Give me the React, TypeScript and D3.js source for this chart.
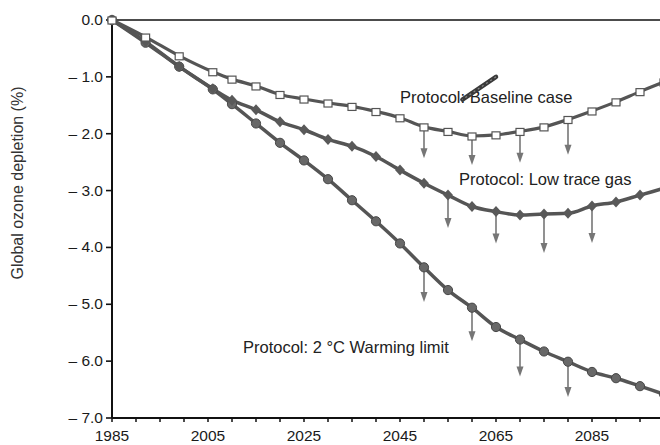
import React from 'react';
import * as d3 from 'd3';

// years of the model runs (markers)
const years = [1985, 1992, 1999, 2006, 2010, 2015, 2020, 2025, 2030, 2035, 2040, 2045, 2050, 2055, 2060, 2065, 2070, 2075, 2080, 2085, 2090, 2095, 2100];

const baselineCase = [0, -0.3, -0.63, -0.91, -1.04, -1.16, -1.31, -1.39, -1.46, -1.52, -1.61, -1.72, -1.88, -1.96, -2.04, -2.02, -1.96, -1.88, -1.75, -1.6, -1.44, -1.26, -1.09];
const lowTraceGas = [0, -0.38, -0.82, -1.21, -1.41, -1.58, -1.79, -1.93, -2.1, -2.22, -2.4, -2.64, -2.87, -3.08, -3.28, -3.37, -3.43, -3.41, -3.4, -3.27, -3.2, -3.08, -2.96];
const warmingLimit = [0, -0.4, -0.82, -1.22, -1.48, -1.82, -2.16, -2.47, -2.8, -3.17, -3.54, -3.93, -4.35, -4.75, -5.06, -5.4, -5.62, -5.83, -6.01, -6.19, -6.3, -6.44, -6.58];

// uncertainty arrows (year, value at arrow tip)
const baselineArrowYears = [2050, 2060, 2070, 2080];
const baselineArrowEnds = [-2.43, -2.55, -2.51, -2.37];
const lowTraceArrowYears = [2055, 2065, 2075, 2085];
const lowTraceArrowEnds = [-3.66, -3.93, -4.1, -3.92];
const warmingArrowYears = [2050, 2060, 2070, 2080];
const warmingArrowEnds = [-4.96, -5.65, -6.27, -6.63];

const xMinorTicks = [1985, 1990, 1995, 2000, 2005, 2010, 2015, 2020, 2025, 2030, 2035, 2040, 2045, 2050, 2055, 2060, 2065, 2070, 2075, 2080, 2085, 2090, 2095, 2100];
const xLabels = [1985, 2005, 2025, 2045, 2065, 2085];
const yTicks = [0, -1, -2, -3, -4, -5, -6, -7];

const FONT = '"Liberation Sans", Arial, Helvetica, sans-serif';
const LINE = '#555';
const ARROW = '#767676';

const width = 660;
const height = 445;

const x = d3.scaleLinear().domain([1985, 2085]).range([112, 592]);
const y = d3.scaleLinear().domain([0, -7]).range([20, 418]);

const line = d3.line<[number, number]>()
  .x(d => x(d[0]))
  .y(d => y(d[1]))
  .curve(d3.curveMonotoneX);

const pairs = (vals: number[]) => years.map((yr, i) => [yr, vals[i]] as [number, number]);

const valueAt = (vals: number[], yr: number) => vals[years.indexOf(yr)];

const fmtY = (v: number) => (v === 0 ? '0.0' : '\u2013 ' + Math.abs(v).toFixed(1));

const Arrows = ({ vals, ys, ends }: { vals: number[]; ys: number[]; ends: number[] }) => (
  <g>
    {ys.map((yr, i) => {
      const cx = x(yr);
      const y0 = y(valueAt(vals, yr)) + 4;
      const y1 = y(ends[i]);
      return (
        <g key={yr}>
          <line x1={cx} x2={cx} y1={y0} y2={y1 - 8} stroke={ARROW} strokeWidth={1.6} />
          <path d={`M${cx - 3.5},${y1 - 10} L${cx + 3.5},${y1 - 10} L${cx},${y1} Z`} fill={ARROW} />
        </g>
      );
    })}
  </g>
);

export default function App() {
  const pointerFrom = [x(2065), y(-1.0)];
  const pointerTo = [x(2058), y(-1.4)];

  return (
    <div style={{ position: 'fixed', left: 0, top: 0, width, height, background: '#fff' }}>
      <svg width={width} height={height} style={{ display: 'block', fontFamily: FONT }}>
        <rect width={width} height={height} fill="#fff" />

        {/* axes */}
        <line x1={x(1985)} x2={width} y1={y(0)} y2={y(0)} stroke="#111" strokeWidth={1.6} />
        <line x1={x(1985)} x2={width} y1={y(-7)} y2={y(-7)} stroke="#111" strokeWidth={2} />
        <line x1={x(1985)} x2={x(1985)} y1={y(0)} y2={y(-7)} stroke="#111" strokeWidth={2} />

        {yTicks.map(v => (
          <g key={v}>
            <line x1={x(1985) - 6} x2={x(1985)} y1={y(v)} y2={y(v)} stroke="#111" strokeWidth={1.6} />
            <text x={x(1985) - 9} y={y(v) + 5} textAnchor="end" fontSize={15.5} fill="#1a1a1a" style={{ whiteSpace: 'pre' }}>
              {fmtY(v)}
            </text>
          </g>
        ))}

        {xMinorTicks.map(t => (
          <line key={t} x1={x(t)} x2={x(t)} y1={y(-7)} y2={y(-7) + 4} stroke="#111" strokeWidth={1.5} />
        ))}
        {xLabels.map(t => (
          <text key={t} x={x(t)} y={441} textAnchor="middle" fontSize={15.5} fill="#1a1a1a">{t}</text>
        ))}

        <text transform="translate(23,183) rotate(-90)" textAnchor="middle" fontSize={16} fill="#333">
          Global ozone depletion (%)
        </text>

        {/* arrows */}
        <Arrows vals={baselineCase} ys={baselineArrowYears} ends={baselineArrowEnds} />
        <Arrows vals={lowTraceGas} ys={lowTraceArrowYears} ends={lowTraceArrowEnds} />
        <Arrows vals={warmingLimit} ys={warmingArrowYears} ends={warmingArrowEnds} />

        {/* lines */}
        <path d={line(pairs(warmingLimit)) || ''} fill="none" stroke={LINE} strokeWidth={3.5} />
        <path d={line(pairs(lowTraceGas)) || ''} fill="none" stroke={LINE} strokeWidth={3.5} />
        <path d={line(pairs(baselineCase)) || ''} fill="none" stroke={LINE} strokeWidth={3.2} />

        {/* markers */}
        {pairs(warmingLimit).map(([yr, v]) => (
          <circle key={yr} cx={x(yr)} cy={y(v)} r={4.6} fill="#686868" stroke="#474747" strokeWidth={1} />
        ))}
        {pairs(lowTraceGas).map(([yr, v]) => {
          const cx = x(yr);
          const cy = y(v);
          return <path key={yr} d={`M${cx},${cy - 5.5} L${cx + 5},${cy} L${cx},${cy + 5.5} L${cx - 5},${cy} Z`} fill="#595959" />;
        })}
        {pairs(baselineCase).map(([yr, v]) => (
          <rect key={yr} x={x(yr) - 4} y={y(v) - 3} width={8} height={7} fill="#fff" stroke="#555" strokeWidth={1.2} />
        ))}

        {/* labels */}
        <text x={400} y={103} fontSize={16.5} fill="#222">Protocol: Baseline case</text>
        <text x={459} y={185} fontSize={16.5} fill="#222">Protocol: Low trace gas</text>
        <text x={243} y={353} fontSize={16.5} fill="#222">Protocol: 2 °C Warming limit</text>

        {/* pointer mark near the baseline label */}
        <line x1={pointerFrom[0]} y1={pointerFrom[1]} x2={pointerTo[0]} y2={pointerTo[1]} stroke="#3a3a3a" strokeWidth={4.5} strokeLinecap="round" />
        <line x1={pointerFrom[0]} y1={pointerFrom[1]} x2={pointerTo[0]} y2={pointerTo[1]} stroke="#8a8a8a" strokeWidth={1.2} strokeDasharray="2,3" />
      </svg>
    </div>
  );
}
